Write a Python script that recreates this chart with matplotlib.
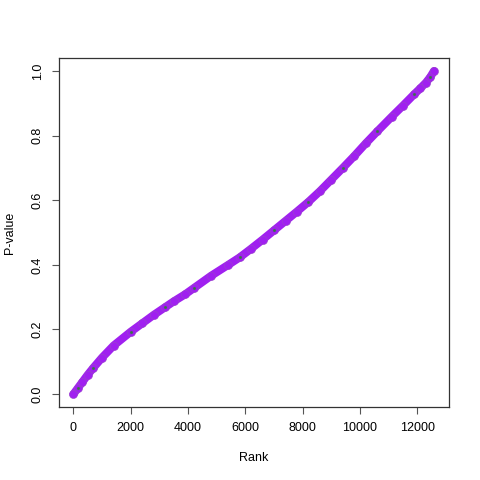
import matplotlib
matplotlib.use('Agg')
import matplotlib.pyplot as plt

# --- Data (sorted p-values against their rank) ---
rank = [0, 150, 300, 500, 700, 1000, 1400, 2000, 2400, 2800, 3200, 3500,
        3900, 4200, 4800, 5400, 5800, 6200, 6600, 7000, 7400, 7800, 8200,
        8600, 9000, 9400, 9800, 10200, 10600, 11100, 11500, 11900, 12100,
        12300, 12450, 12580]
pvalue = [0.0, 0.018, 0.036, 0.060, 0.082, 0.113, 0.150, 0.193, 0.219,
          0.245, 0.269, 0.287, 0.309, 0.328, 0.366, 0.400, 0.423, 0.450,
          0.478, 0.507, 0.536, 0.565, 0.595, 0.628, 0.664, 0.700, 0.737,
          0.776, 0.813, 0.858, 0.893, 0.929, 0.946, 0.964, 0.981, 1.0]

x_ticks = [0, 2000, 4000, 6000, 8000, 10000, 12000]
y_ticks = [0.0, 0.2, 0.4, 0.6, 0.8, 1.0]

PURPLE = '#A020F0'
GREEN = '#1f8a1f'

plt.rcParams['font.family'] = ['Liberation Sans', 'DejaVu Sans']

fig = plt.figure(figsize=(4.8, 4.8), dpi=100)
ax = fig.add_axes([0.1229, 0.152, 0.8125, 0.727])

# thick band of overlapping points
ax.plot(rank, pvalue, color=PURPLE, lw=5.8, solid_capstyle='round',
        solid_joinstyle='round', zorder=2)
ax.plot(rank, pvalue, 'o', ms=5.8, mfc=PURPLE, mec='#9a48c8', mew=0.4,
        zorder=3)
# scattered green points showing through
ax.plot(rank[1::3], pvalue[1::3], 'o', ms=1.3, color=GREEN, alpha=0.6,
        zorder=4)

n_max = 12600
pad_x = 0.04 * n_max
ax.set_xlim(-pad_x, n_max + pad_x)
ax.set_ylim(-0.04, 1.04)

ax.set_xticks(x_ticks)
ax.set_xticklabels([str(t) for t in x_ticks])
ax.set_yticks(y_ticks)
ax.set_yticklabels(['%.1f' % t for t in y_ticks], rotation=90, va='center')

ax.tick_params(direction='out', length=5, width=0.8, labelsize=9, pad=6,
               color='#555555')
for s in ax.spines.values():
    s.set_linewidth(0.9)
    s.set_color('#333333')

ax.set_xlabel('Rank', fontsize=9, labelpad=13)
ax.set_ylabel('P-value', fontsize=9, labelpad=11)

fig.savefig('out.png', dpi=100)
